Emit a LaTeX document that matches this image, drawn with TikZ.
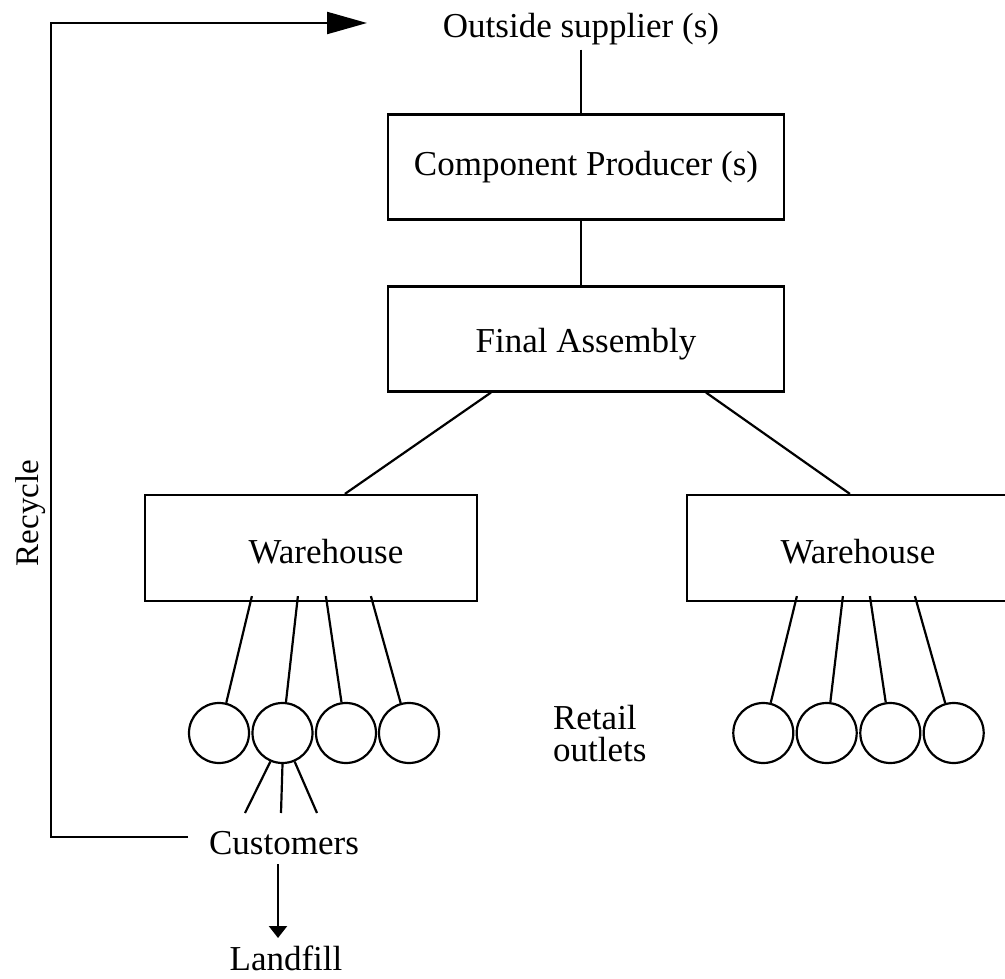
\documentclass[tikz,border=0pt]{standalone}
\usepackage{fontspec}
\setmainfont{Liberation Serif}
\usetikzlibrary{arrows.meta,calc}
\begin{document}
\begin{tikzpicture}[x=1pt,y=-1pt,
  line width=2.2pt,
  every node/.style={font=\fontsize{35}{40}\selectfont, inner sep=0pt},
  stagebox/.style={draw, rectangle, minimum width=396pt, minimum height=105pt},
  depot/.style={draw, rectangle, minimum height=106pt},
  outlet/.style={draw, circle, minimum size=60pt},
  bigtip/.style={-{Triangle[length=40pt,width=22pt]}},
  smalltip/.style={-{Triangle[length=12pt,width=18pt]}}]
\useasboundingbox (0,0) rectangle (1005,979);
\clip (0,0) rectangle (1005,979);

% supply chain stages
\node[anchor=base] (sup) at (581,38) {Outside supplier (s)};
\node[stagebox] (comp) at (586,167) {Component Producer (s)};
\node[stagebox, text height=34pt] (asm) at (586,339) {Final Assembly};
\node[depot, minimum width=332pt, label={[xshift=15pt, yshift=-4pt]center:Warehouse}] (whL) at (311,548) {};
\node[depot, minimum width=342pt, label={[yshift=-4pt]center:Warehouse}] (whR) at (858,548) {};

% retail outlets
\node[outlet] (l1) at (219,733) {};
\node[outlet] (l2) at (282.5,733) {};
\node[outlet] (l3) at (346,733) {};
\node[outlet] (l4) at (409,733) {};
\node[outlet] (r1) at (763.3,733) {};
\node[outlet] (r2) at (826.7,733) {};
\node[outlet] (r3) at (890.3,733) {};
\node[outlet] (r4) at (953.7,733) {};
\node[anchor=base west, align=left, font=\fontsize{35}{32}\selectfont] (retail) at (552,761) {Retail\\outlets};

% end of life
\node[anchor=base] (cust) at (284,854) {Customers};
\node[anchor=base] (land) at (286,970) {Landfill};
\node[rotate=90, font=\fontsize{33}{36}\selectfont] (rec) at (31,513) {Recycle};

% material flow
\draw[shorten <=3pt] (sup.south) -- (sup.south |- comp.north);
\draw (comp.south -| sup.south) -- (asm.north -| sup.south);
\draw ($(asm.south west)+(104,0)$) -- ($(whL.north west)+(201,0)$);
\draw ($(asm.south east)+(-79,0)$) -- ($(whR.north west)+(164,0)$);
\foreach \dx/\c in {108/l1,154/l2,182/l3,227/l4}
  \draw ($(whL.south west)+(\dx,-6)$) -- (\c);
\foreach \dx/\c in {111/r1,157/r2,184/r3,229/r4}
  \draw ($(whR.south west)+(\dx,-6)$) -- (\c);
\draw (l2.247) -- ($(cust.base)+(-39,-41)$);
\draw (l2.south) -- ($(cust.base)+(-3,-41)$);
\draw (l2.293) -- ($(cust.base)+(33,-41)$);
\draw[smalltip] ($(cust.base)+(-6,10)$) -- ($(land.base)+(-8,-32)$);

% recycling loop
\coordinate (loopS) at (188,837);
\coordinate (loopE) at (367,23);
\draw[bigtip] (loopS) -| (51,23) -- (loopE);
\end{tikzpicture}
\end{document}
